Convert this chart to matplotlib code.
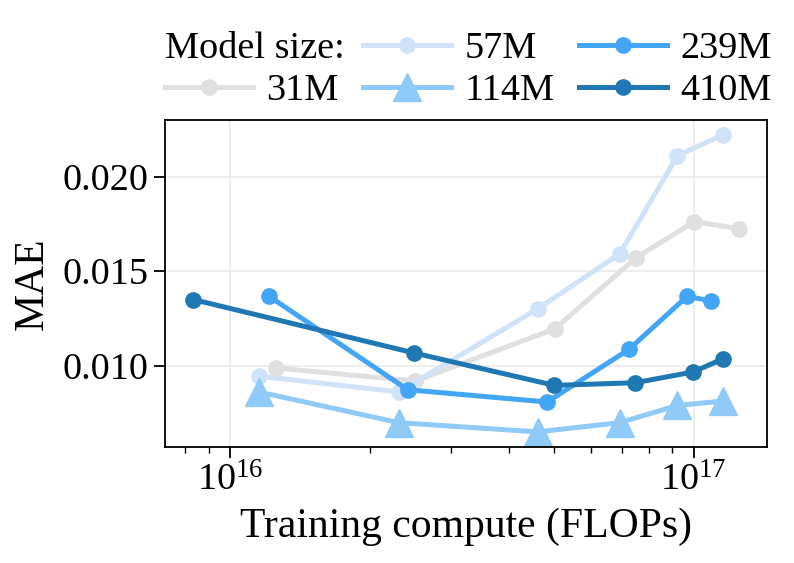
import numpy as np
import matplotlib
matplotlib.use('Agg')
import matplotlib.pyplot as plt
from matplotlib.ticker import FormatStrFormatter, LogLocator, NullFormatter
from matplotlib.lines import Line2D

plt.rcParams['font.family'] = 'serif'
plt.rcParams['font.serif'] = ['Liberation Serif', 'DejaVu Serif']
plt.rcParams['mathtext.fontset'] = 'stix'

# data: training compute (FLOPs) vs MAE per model size
sizes = ['31M', '57M', '114M', '239M', '410M']
x31 = [1.255e16, 2.51e16, 5.02e16, 7.5e16, 1.004e17, 1.256e17]
y31 = [0.00988, 0.00919, 0.01195, 0.01570, 0.01762, 0.01724]
x57 = [1.155e16, 2.31e16, 4.61e16, 6.93e16, 9.23e16, 1.155e17]
y57 = [0.00945, 0.00861, 0.01301, 0.01592, 0.02111, 0.02220]
x114 = [1.155e16, 2.31e16, 4.61e16, 6.93e16, 9.23e16, 1.155e17]
y114 = [0.00861, 0.00699, 0.00650, 0.00699, 0.00790, 0.00813]
x239 = [1.212e16, 2.416e16, 4.83e16, 7.25e16, 9.69e16, 1.089e17]
y239 = [0.01368, 0.00873, 0.00808, 0.01086, 0.01368, 0.01342]
x410 = [8.33e15, 2.498e16, 5.007e16, 7.48e16, 9.98e16, 1.159e17]
y410 = [0.01350, 0.01067, 0.00896, 0.00910, 0.00967, 0.01037]

colors = ['#e0e0e0', '#d0e3f8', '#90caf9', '#42a5f5', '#1f77b4']
markers = ['o', 'o', '^', 'o', 'o']

fig = plt.figure(figsize=(7.94, 5.63), dpi=100)
ax = fig.add_axes([0.208, 0.206, 0.758, 0.581])

xs = [x31, x57, x114, x239, x410]
ys = [y31, y57, y114, y239, y410]
lines = []
for x, y, c, m, lab in zip(xs, ys, colors, markers, sizes):
    ms = 19.5 if m == '^' else 11
    l, = ax.plot(x, y, color=c, marker=m, markersize=ms, linewidth=3.6, label=lab)
    lines.append(l)

ax.set_xscale('log')
ax.set_xlim(7.24e15, 1.44e17)
ax.set_ylim(0.0057, 0.0230)
ax.set_yticks([0.010, 0.015, 0.020])
ax.yaxis.set_major_formatter(FormatStrFormatter('%.3f'))
ax.xaxis.set_minor_locator(LogLocator(base=10, subs=np.arange(2, 10)))
ax.xaxis.set_minor_formatter(NullFormatter())

ax.tick_params(axis='both', which='major', labelsize=27.5, length=8, width=1.3, pad=4)
ax.tick_params(axis='x', which='minor', length=4.5, width=1.0)
ax.grid(True, which='major', color='#ebebeb', linewidth=1.2)
ax.set_axisbelow(True)
for s in ax.spines.values():
    s.set_linewidth(1.3)

ax.set_xlabel('Training compute (FLOPs)', fontsize=30, labelpad=6)
ax.set_ylabel('MAE', fontsize=30, labelpad=8)

blank = Line2D([], [], linestyle='none', marker='')
handles = [blank, lines[0], lines[1], lines[2], lines[3], lines[4]]
labels = [' ', '31M', '57M', '114M', '239M', '410M']
leg = ax.legend(handles, labels, ncol=3, loc='lower left', bbox_to_anchor=(0.0, 1.035),
                frameon=False, fontsize=27.5, borderpad=0, borderaxespad=0,
                handlelength=2.3, handletextpad=0.35, columnspacing=0.65,
                labelspacing=0.2)

fig.canvas.draw()
r = fig.canvas.get_renderer()
lb = leg.get_window_extent(r)
tb = leg.get_texts()[2].get_window_extent(r)
fig.text(lb.x0 / fig.bbox.width, tb.y0 / fig.bbox.height, 'Model size:',
         fontsize=27.5, ha='left', va='bottom')

fig.savefig('out.png', dpi=100)
